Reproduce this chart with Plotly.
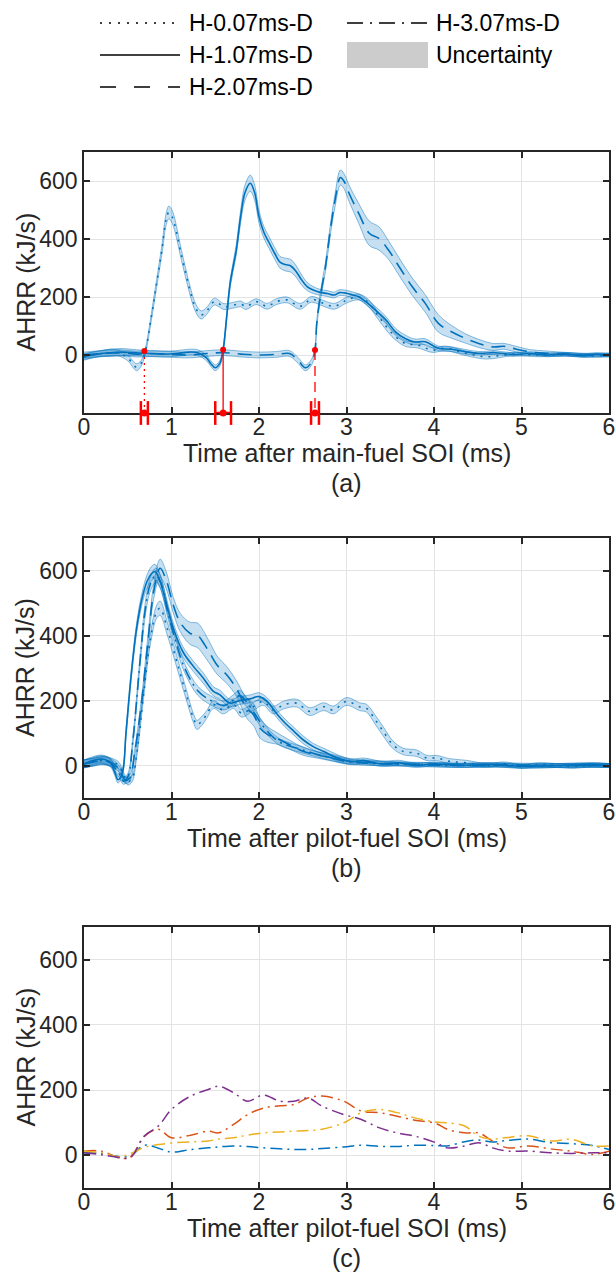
import plotly.graph_objects as go
from plotly.subplots import make_subplots

# ---------------- data ----------------
# panel (a): time after main-fuel SOI (ms), AHRR (kJ/s), uncertainty half-width
A0_T = [0, 0.1, 0.2, 0.3, 0.4, 0.5, 0.6, 0.65, 0.7, 0.77, 0.83, 0.89, 0.94, 0.97, 1.01, 1.06, 1.1, 1.16, 1.21, 1.28, 1.34,
        1.41, 1.49, 1.6, 1.71, 1.79, 1.85, 1.97, 2.09, 2.2, 2.32, 2.47, 2.6, 2.72, 2.86, 3.0, 3.14, 3.25, 3.37, 3.52, 3.67,
        3.82, 3.98, 4.13, 4.36, 4.6, 4.9, 5.2, 5.5, 5.8, 6.0]
A0_Y = [-8, 0, 5, 8, 6, -10, -42, -30, 12, 132, 247, 362, 470, 492, 475, 420, 362, 285, 224, 160, 138,
        155, 184, 167, 172, 176, 167, 184, 168, 184, 190, 168, 192, 180, 168, 189, 200, 180, 132, 75, 40,
        34, 17, 23, 6, -6, 3, 0, 2, -2, 0]
A0_W = [10, 10, 10, 12, 10, 10, 12, 10, 10, 12, 14, 16, 20, 22, 22, 20, 18, 16, 15, 14, 14,
        12, 12, 10, 10, 10, 10, 10, 10, 10, 10, 10, 10, 10, 10, 10, 10, 12, 12, 12, 10,
        10, 8, 8, 8, 8, 6, 6, 6, 6, 6]

A1_T = [0, 0.15, 0.3, 0.45, 0.6, 0.75, 0.9, 1.05, 1.2, 1.3, 1.4, 1.45, 1.5, 1.55, 1.59, 1.63, 1.67, 1.74, 1.79, 1.84,
        1.9, 1.95, 2.0, 2.06, 2.12, 2.18, 2.24, 2.3, 2.36, 2.42, 2.48, 2.55, 2.62, 2.7, 2.78, 2.86, 2.92, 3.0, 3.07,
        3.14, 3.22, 3.33, 3.45, 3.56, 3.67, 3.78, 3.9, 4.05, 4.2, 4.36, 4.51, 4.7, 4.9, 5.1, 5.3, 5.5, 5.7, 5.85, 6.0]
A1_Y = [-5, 3, 8, 10, 8, 5, 3, 5, 10, 8, -10, -30, -44, -30, 18, 130, 247, 362, 477, 560,
        592, 560, 477, 420, 385, 350, 320, 312, 308, 290, 262, 236, 224, 216, 212, 207, 215, 213, 207,
        201, 184, 155, 121, 80, 57, 45, 46, 23, 20, 11, 6, 8, 2, 5, 0, 3, -2, 2, 0]
A1_W = [10, 10, 12, 12, 10, 10, 10, 10, 10, 10, 10, 10, 10, 10, 10, 12, 14, 18, 22, 26,
        28, 26, 22, 20, 20, 20, 20, 22, 22, 20, 18, 14, 12, 10, 10, 10, 10, 10, 10,
        10, 10, 12, 12, 12, 12, 10, 10, 8, 8, 8, 6, 6, 6, 6, 6, 6, 6, 6, 6]

A2_T = [0, 0.2, 0.4, 0.6, 0.8, 1.0, 1.2, 1.4, 1.6, 1.8, 2.0, 2.2, 2.35, 2.45, 2.53, 2.6, 2.64, 2.66, 2.7, 2.76,
        2.81, 2.87, 2.93, 2.97, 3.03, 3.14, 3.26, 3.37, 3.48, 3.6, 3.75, 3.9, 4.05, 4.2, 4.36, 4.51, 4.67, 4.8,
        4.9, 5.09, 5.28, 5.5, 5.7, 6.0]
A2_Y = [0, 5, 8, 3, 5, 2, 0, 5, 8, 3, 0, 2, 5, -20, -44, -25, 17, 109, 201, 305,
        420, 535, 612, 600, 557, 488, 420, 402, 362, 305, 236, 178, 109, 80, 57, 40, 28, 30,
        23, 11, 6, 3, 0, 0]
A2_W = [10, 10, 10, 10, 10, 10, 10, 10, 10, 10, 10, 10, 10, 10, 10, 10, 10, 12, 14, 16,
        18, 22, 26, 26, 28, 34, 42, 40, 32, 30, 30, 30, 30, 22, 16, 14, 12, 10,
        10, 8, 8, 6, 6, 6]

# ignition delay markers in (a)
IGN_T = [0.69, 1.59, 2.64]
IGN_Y = [14, 18, 17]
IGN_ERR = [0.04, 0.09, 0.045]

# panel (b): time after pilot-fuel SOI (ms)
B0_T = [0, 0.1, 0.2, 0.3, 0.4, 0.45, 0.5, 0.55, 0.6, 0.68, 0.76, 0.83, 0.87, 0.95, 1.06, 1.17, 1.25, 1.29, 1.34, 1.4,
        1.48, 1.59, 1.71, 1.8, 1.94, 2.05, 2.16, 2.28, 2.43, 2.58, 2.74, 2.85, 3.0, 3.15, 3.23, 3.33, 3.42, 3.53,
        3.65, 3.8, 3.92, 4.03, 4.18, 4.37, 4.6, 4.8, 5.0, 5.2, 5.4, 5.6, 5.8, 6.0]
B0_Y = [5, 10, 15, 12, 0, -30, -50, -40, 30, 217, 391, 473, 484, 423, 320, 217, 146, 125, 135, 156,
        187, 171, 187, 161, 182, 197, 171, 186, 192, 166, 181, 171, 197, 181, 176, 140, 105, 64,
        43, 38, 23, 23, 13, 8, 0, 5, -3, 3, 0, -3, 2, 0]
B0_W = [12, 12, 12, 12, 10, 10, 10, 10, 10, 12, 16, 20, 22, 20, 18, 16, 14, 14, 14, 12,
        12, 12, 12, 12, 12, 12, 12, 12, 12, 12, 12, 12, 12, 12, 12, 14, 14, 12,
        10, 10, 8, 8, 8, 8, 6, 6, 6, 6, 6, 6, 6, 6]

B1_T = [0, 0.1, 0.2, 0.3, 0.35, 0.39, 0.44, 0.48, 0.54, 0.6, 0.66, 0.72, 0.77, 0.81, 0.86, 0.92, 1.02, 1.13, 1.25,
        1.36, 1.48, 1.55, 1.67, 1.78, 1.9, 2.0, 2.1, 2.2, 2.3, 2.4, 2.5, 2.62, 2.74, 2.9, 3.05, 3.2, 3.4, 3.6, 3.8,
        4.0, 4.3, 4.6, 5.0, 5.4, 5.8, 6.0]
B1_Y = [5, 15, 20, 10, -20, -44, -20, 100, 280, 420, 510, 566, 590, 597, 575, 520, 423, 350, 305,
        270, 228, 218, 192, 200, 205, 212, 195, 160, 130, 105, 80, 58, 43, 23, 12, 15, 5, 8, 0,
        5, 0, 3, -2, 0, 3, 0]
B1_W = [12, 12, 12, 12, 10, 10, 10, 12, 14, 16, 18, 20, 22, 22, 20, 18, 16, 16, 16,
        16, 14, 14, 12, 12, 12, 12, 12, 12, 12, 12, 12, 10, 10, 10, 8, 8, 8, 8, 6,
        6, 6, 6, 6, 6, 6, 6]

B2_T = [0, 0.1, 0.2, 0.3, 0.4, 0.47, 0.52, 0.58, 0.66, 0.73, 0.8, 0.87, 0.94, 1.02, 1.1, 1.21, 1.3, 1.38, 1.45,
        1.52, 1.63, 1.74, 1.86, 1.94, 2.01, 2.1, 2.2, 2.35, 2.51, 2.66, 2.85, 3.04, 3.3, 3.6, 4.0, 4.4, 4.8, 5.2,
        5.6, 6.0]
B2_Y = [5, 10, 15, 10, -10, -45, -40, 40, 200, 380, 540, 607, 570, 494, 440, 407, 400, 371, 340,
        309, 279, 238, 176, 156, 115, 95, 84, 64, 43, 33, 23, 13, 8, 5, 3, 0, 2, 0,
        0, 0]
B2_W = [12, 12, 12, 12, 10, 10, 10, 12, 14, 18, 22, 28, 26, 24, 28, 34, 38, 36, 32,
        28, 26, 24, 30, 34, 30, 24, 18, 14, 12, 10, 10, 8, 8, 6, 6, 6, 6, 6,
        6, 6]

B3_T = [0, 0.1, 0.2, 0.3, 0.4, 0.45, 0.5, 0.56, 0.64, 0.7, 0.76, 0.82, 0.88, 0.95, 1.05, 1.15, 1.3, 1.45, 1.6,
        1.7, 1.78, 1.86, 1.95, 2.05, 2.15, 2.25, 2.35, 2.5, 2.65, 2.8, 3.0, 3.2, 3.5, 3.8, 4.2, 4.6, 5.0, 5.5, 6.0]
B3_Y = [5, 12, 18, 8, -25, -48, -35, 80, 320, 480, 560, 585, 560, 480, 380, 300, 230, 200, 185,
        200, 215, 195, 160, 120, 90, 70, 60, 48, 35, 25, 12, 8, 5, 3, 0, 2, -2, 0, 0]
B3_W = [12, 12, 12, 12, 10, 10, 10, 12, 16, 20, 22, 22, 20, 18, 16, 14, 14, 14, 14,
        16, 16, 14, 12, 12, 10, 10, 10, 10, 8, 8, 8, 6, 6, 6, 6, 6, 6, 6, 6]

# panel (c)
C_T = [0, 0.2, 0.41, 0.53, 0.69, 0.85, 1.0, 1.22, 1.42, 1.54, 1.71, 1.87, 2.05, 2.24, 2.4, 2.56, 2.72, 2.97, 3.17,
       3.37, 3.58, 3.78, 4.02, 4.15, 4.35, 4.51, 4.67, 4.84, 5.08, 5.33, 5.57, 5.81, 6.0]
C_BLUE = [8, 6, -4, -2, 31, 22, 10, 18, 23, 26, 29, 27, 23, 20, 18, 18, 21, 26, 31,
          28, 27, 31, 30, 29, 42, 47, 41, 46, 50, 39, 36, 30, 18]
C_ORANGE = [13, 13, -8, -5, 59, 80, 54, 62, 74, 69, 95, 125, 145, 152, 156, 176, 182, 166, 136,
            131, 120, 108, 98, 80, 69, 69, 44, 23, 29, 20, 13, 3, 13]
C_YELLOW = [13, 8, -4, 5, 25, 33, 38, 41, 44, 50, 54, 62, 69, 72, 74, 76, 80, 100, 131,
            141, 131, 115, 102, 100, 90, 59, 50, 55, 60, 44, 49, 29, 29]
C_PURPLE = [8, 2, -7, -7, 59, 90, 141, 182, 202, 212, 192, 166, 185, 166, 166, 176, 151, 125, 110,
            85, 69, 59, 39, 23, 29, 39, 23, 13, 13, 8, 6, 8, 8]

LEGEND_NAMES = ["H-0.07ms-D", "H-1.07ms-D", "H-2.07ms-D", "H-3.07ms-D", "Uncertainty"]
XTITLES = ["Time after main-fuel SOI (ms)", "Time after pilot-fuel SOI (ms)", "Time after pilot-fuel SOI (ms)"]
PANEL_LABELS = ["(a)", "(b)", "(c)"]

# ---------------- style ----------------
BLUE = "#0072BD"
EDGE = "rgba(0,114,189,0.45)"
FILL = "rgba(0,114,189,0.22)"
RED = "#FF0000"
INK = "#262626"
FONT = "Liberation Sans, Arial, sans-serif"
DOT = "2px,6px"
DASH = "14px,8px"
DASHDOT = "12px,5px,2px,5px"

W_PX, H_PX, L, R, T, B = 616, 1287, 84, 7, 152, 99
PW, PH = W_PX - L - R, H_PX - T - B
PANEL_PX = [(152, 413), (538, 798), (927, 1188)]  # top, bottom of each plot area


def px(x):
    return (x - L) / PW


def py(y):
    return (H_PX - B - y) / PH


fig = make_subplots(rows=3, cols=1)


def add_band(t, y, w, row):
    lo = [a - b for a, b in zip(y, w)]
    hi = [a + b for a, b in zip(y, w)]
    fig.add_trace(go.Scatter(x=t, y=lo, mode="lines", hoverinfo="skip", showlegend=False,
                             line=dict(color=EDGE, width=1, shape="spline")), row=row, col=1)
    fig.add_trace(go.Scatter(x=t, y=hi, mode="lines", hoverinfo="skip", showlegend=False,
                             fill="tonexty", fillcolor=FILL,
                             line=dict(color=EDGE, width=1, shape="spline")), row=row, col=1)


def add_line(t, y, dash, row, color=BLUE, width=1.6):
    fig.add_trace(go.Scatter(x=t, y=y, mode="lines", showlegend=False,
                             line=dict(color=color, width=width, dash=dash, shape="spline")), row=row, col=1)


# panel (a)
for t, y, w in [(A0_T, A0_Y, A0_W), (A1_T, A1_Y, A1_W), (A2_T, A2_Y, A2_W)]:
    add_band(t, y, w, 1)
add_line(A0_T, A0_Y, DOT, 1)
add_line(A1_T, A1_Y, "solid", 1)
add_line(A2_T, A2_Y, DASH, 1)

# ignition delay: drop lines, onset points and error bars on the time axis
for tt, yy, ee, dash in zip(IGN_T, IGN_Y, IGN_ERR, ["2px,4px", "solid", "10px,6px"]):
    fig.add_trace(go.Scatter(x=[tt, tt], y=[yy, -200], mode="lines", showlegend=False,
                             line=dict(color=RED, width=1.3, dash=dash)), row=1, col=1)
    fig.add_trace(go.Scatter(x=[tt - ee, tt + ee], y=[-200, -200], mode="lines", showlegend=False,
                             line=dict(color=RED, width=2.5)), row=1, col=1)
    fig.add_trace(go.Scatter(x=[tt - ee, tt + ee], y=[-200, -200], mode="markers", showlegend=False,
                             cliponaxis=False,
                             marker=dict(symbol="line-ns", size=17, line=dict(color=RED, width=2.5))),
                  row=1, col=1)
fig.add_trace(go.Scatter(x=IGN_T, y=IGN_Y, mode="markers", showlegend=False,
                         marker=dict(color=RED, size=6)), row=1, col=1)
fig.add_trace(go.Scatter(x=IGN_T, y=[-200] * 3, mode="markers", showlegend=False, cliponaxis=False,
                         marker=dict(color=RED, size=7)), row=1, col=1)

# panel (b)
for t, y, w in [(B0_T, B0_Y, B0_W), (B1_T, B1_Y, B1_W), (B2_T, B2_Y, B2_W), (B3_T, B3_Y, B3_W)]:
    add_band(t, y, w, 2)
add_line(B0_T, B0_Y, DOT, 2)
add_line(B1_T, B1_Y, "solid", 2)
add_line(B2_T, B2_Y, DASH, 2)
add_line(B3_T, B3_Y, DASHDOT, 2)

# panel (c)
for ys, col in [(C_BLUE, "#0072BD"), (C_ORANGE, "#D95319"), (C_YELLOW, "#EDB120"), (C_PURPLE, "#7E2F8E")]:
    add_line(C_T, ys, DASHDOT, 3, color=col, width=1.5)

# ---------------- axes ----------------
yranges = [[-200, 700], [-100, 700], [-100, 700]]
for i, (top, bot) in enumerate(PANEL_PX):
    ax = dict(showline=True, linecolor=INK, linewidth=1.6, mirror="ticks", ticks="inside", ticklen=6,
              tickwidth=1.6, tickcolor=INK, showgrid=True, gridcolor="#E3E3E3", gridwidth=1, zeroline=False,
              automargin=False, tickfont=dict(family=FONT, size=23, color=INK))
    fig.update_xaxes(ax, range=[0, 6], tickvals=[0, 1, 2, 3, 4, 5, 6], row=i + 1, col=1, ticklabelstandoff=-7,
                     layer="below traces" if i == 0 else "above traces")
    fig.update_yaxes(ax, range=yranges[i], tickvals=[0, 200, 400, 600], domain=[py(bot), py(top)],
                     row=i + 1, col=1)
    fig.add_annotation(text=XTITLES[i], xref="paper", yref="paper", x=0.5, y=py(bot + 40),
                       showarrow=False, xanchor="center", yanchor="middle",
                       font=dict(family=FONT, size=25, color=INK))
    fig.add_annotation(text=PANEL_LABELS[i], xref="paper", yref="paper", x=0.5, y=py(bot + 70),
                       showarrow=False, xanchor="center", yanchor="middle",
                       font=dict(family=FONT, size=25, color=INK))
    fig.add_annotation(text="AHRR (kJ/s)", xref="paper", yref="paper", x=px(25), y=py((top + bot) / 2),
                       showarrow=False, textangle=-90, xanchor="center", yanchor="middle",
                       font=dict(family=FONT, size=25, color=INK))

# ---------------- legend drawn by hand ----------------
legend_items = [(LEGEND_NAMES[0], "2px,7px", 100, 23), (LEGEND_NAMES[1], "solid", 100, 55),
                (LEGEND_NAMES[2], "16px,18px", 100, 87), (LEGEND_NAMES[3], "16px,7px,2px,7px", 347, 23)]
for name, dash, x0, y0 in legend_items:
    fig.add_shape(type="line", xref="paper", yref="paper", x0=px(x0), x1=px(x0 + 80), y0=py(y0), y1=py(y0),
                  line=dict(color="black", width=1.5, dash=dash))
    fig.add_annotation(text=name, xref="paper", yref="paper", x=px(x0 + 87), y=py(y0), xanchor="left",
                       yanchor="middle", showarrow=False, font=dict(family=FONT, size=23, color="black"))
fig.add_shape(type="rect", xref="paper", yref="paper", x0=px(347), x1=px(428), y0=py(42), y1=py(68),
              fillcolor="#CCCCCC", line=dict(width=0))
fig.add_annotation(text=LEGEND_NAMES[4], xref="paper", yref="paper", x=px(434), y=py(55), xanchor="left",
                   yanchor="middle", showarrow=False, font=dict(family=FONT, size=23, color="black"))

fig.update_layout(width=W_PX, height=H_PX, margin=dict(l=L, r=R, t=T, b=B, autoexpand=False),
                  plot_bgcolor="white", paper_bgcolor="white", showlegend=False, hovermode=False,
                  font=dict(family=FONT, color=INK))

# the page body has a default 8px margin; remove it so the figure fills the window exactly
fig.write_html("out.html", config={"displayModeBar": False},
               post_script="document.body.style.margin='0';document.body.style.overflow='hidden';")
